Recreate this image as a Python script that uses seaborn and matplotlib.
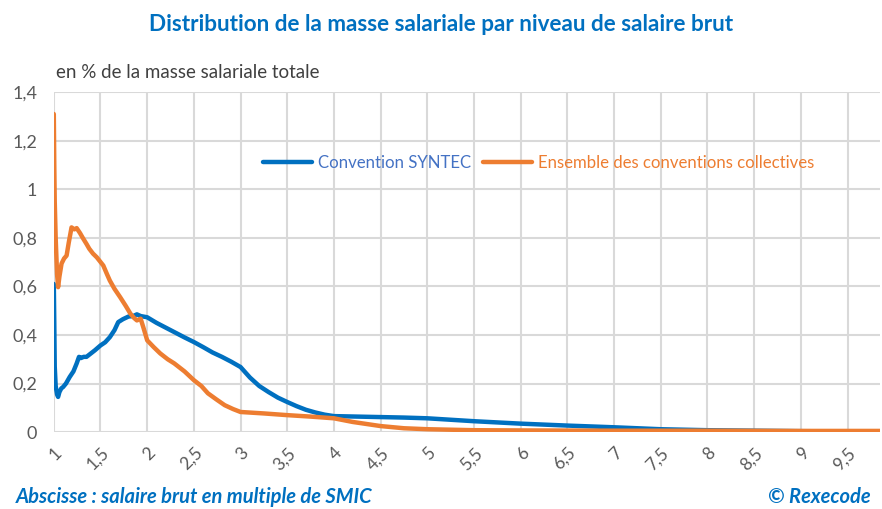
import seaborn as sns
import matplotlib.pyplot as plt
from matplotlib.ticker import FuncFormatter


# ---------- DATA ---------- #

syntec_x = [1.0, 1.005, 1.01, 1.02, 1.035, 1.046, 1.06, 1.08, 1.10, 1.13, 1.17, 1.21, 1.245, 1.27, 1.29,
            1.32, 1.35, 1.40, 1.44, 1.5, 1.55, 1.60, 1.65, 1.69, 1.74, 1.80, 1.85, 1.89, 1.93, 2.0,
            2.1, 2.2, 2.3, 2.4, 2.5, 2.6, 2.7, 2.8, 2.9, 3.0, 3.1, 3.2, 3.3, 3.4, 3.5, 3.6, 3.7, 3.8,
            3.9, 4.0, 4.25, 4.5, 4.75, 5.0, 5.5, 6.0, 6.5, 7.0, 7.5, 8.0, 8.5, 9.0, 9.5, 9.85]
syntec_y = [0.61, 0.45, 0.27, 0.19, 0.155, 0.145, 0.165, 0.18, 0.186, 0.2, 0.227, 0.25, 0.283, 0.31, 0.305,
            0.31, 0.31, 0.325, 0.337, 0.357, 0.37, 0.391, 0.42, 0.453, 0.465, 0.476, 0.478, 0.485, 0.478, 0.473,
            0.45, 0.43, 0.41, 0.39, 0.371, 0.35, 0.328, 0.31, 0.29, 0.268, 0.225, 0.19, 0.165, 0.142, 0.124,
            0.107, 0.092, 0.081, 0.072, 0.066, 0.064, 0.062, 0.06, 0.057, 0.045, 0.035, 0.027, 0.02, 0.012,
            0.008, 0.006, 0.004, 0.003, 0.003]

ensemble_x = [1.0, 1.005, 1.01, 1.02, 1.035, 1.046, 1.06, 1.083, 1.11, 1.137, 1.16, 1.19, 1.22, 1.245, 1.28,
              1.31, 1.35, 1.38, 1.42, 1.46, 1.53, 1.57, 1.60, 1.65, 1.71, 1.77, 1.82, 1.86, 1.89, 1.93,
              1.96, 2.0, 2.07, 2.14, 2.22, 2.29, 2.4, 2.5, 2.58, 2.65, 2.74, 2.83, 2.92, 3.0, 3.25, 3.5,
              3.75, 4.0, 4.2, 4.5, 4.75, 5.0, 5.5, 6.0, 7.0, 8.0, 9.0, 9.85]
ensemble_y = [1.31, 1.1, 0.95, 0.8, 0.65, 0.597, 0.64, 0.694, 0.715, 0.727, 0.78, 0.843, 0.835, 0.84, 0.82,
              0.80, 0.775, 0.755, 0.735, 0.72, 0.686, 0.65, 0.624, 0.59, 0.556, 0.52, 0.488, 0.47, 0.46, 0.467,
              0.43, 0.378, 0.35, 0.324, 0.30, 0.283, 0.25, 0.214, 0.19, 0.16, 0.135, 0.111, 0.095, 0.083,
              0.077, 0.070, 0.064, 0.057, 0.042, 0.025, 0.016, 0.012, 0.008, 0.007, 0.006, 0.006, 0.005, 0.005]

x_ticks = [1, 1.5, 2, 2.5, 3, 3.5, 4, 4.5, 5, 5.5, 6, 6.5, 7, 7.5, 8, 8.5, 9, 9.5]
y_ticks = [0, 0.2, 0.4, 0.6, 0.8, 1.0, 1.2, 1.4]

assert len(syntec_x) == len(syntec_y)
assert len(ensemble_x) == len(ensemble_y)


# ---------- PLOT ---------- #

sns.set_style("white")
plt.rcParams['font.family'] = ['Lato', 'DejaVu Sans']

BLUE = '#0070C0'
ORANGE = '#ED7D31'
GREY = '#595959'

fig = plt.figure(figsize=(8.82, 5.09), dpi=100)
ax = fig.add_axes([0.061, 0.151, 0.937, 0.668])

sns.lineplot(x=syntec_x, y=syntec_y, ax=ax, color=BLUE, linewidth=3.2, label='Convention SYNTEC')
sns.lineplot(x=ensemble_x, y=ensemble_y, ax=ax, color=ORANGE, linewidth=3.2,
             label='Ensemble des conventions collectives')

ax.set_xlim(1, 9.85)
ax.set_ylim(0, 1.4)
ax.set_xticks(x_ticks)
ax.set_yticks(y_ticks)

fmt = FuncFormatter(lambda v, p: ('%g' % v).replace('.', ','))
ax.xaxis.set_major_formatter(fmt)
ax.yaxis.set_major_formatter(fmt)

ax.grid(True, color='#d9d9d9', linewidth=1.5)
for s in ax.spines.values():
    s.set_visible(False)
ax.tick_params(length=0)
ax.tick_params(axis='y', labelsize=13, colors=GREY, pad=12)
ax.tick_params(axis='x', labelsize=12.5, colors=GREY, pad=9)
for lbl in ax.get_xticklabels():
    lbl.set_rotation(45)
    lbl.set_ha('right')
    lbl.set_rotation_mode('anchor')

leg = ax.legend(loc='upper left', bbox_to_anchor=(0.245, 0.835), frameon=False, ncol=2,
                handlelength=2.9, handletextpad=0.35, columnspacing=0.75, fontsize=12.1, borderaxespad=0)
for txt, col in zip(leg.get_texts(), ['#4472C4', ORANGE]):
    txt.set_color(col)

# Titles and notes
fig.text(0.5, 0.951, 'Distribution de la masse salariale par niveau de salaire brut',
         ha='center', va='center', color=BLUE, fontsize=16.2, fontweight='bold')
fig.text(0.063, 0.858, 'en % de la masse salariale totale', ha='left', va='center',
         color='#404040', fontsize=13.5)
fig.text(0.018, 0.024, 'Abscisse : salaire brut en multiple de SMIC', ha='left', va='center',
         color=BLUE, fontsize=14.5, fontweight='bold', fontstyle='italic')
fig.text(0.987, 0.024, '© Rexecode', ha='right', va='center',
         color=BLUE, fontsize=14.5, fontweight='bold', fontstyle='italic')

plt.savefig('out.png', dpi=100)
plt.close()
